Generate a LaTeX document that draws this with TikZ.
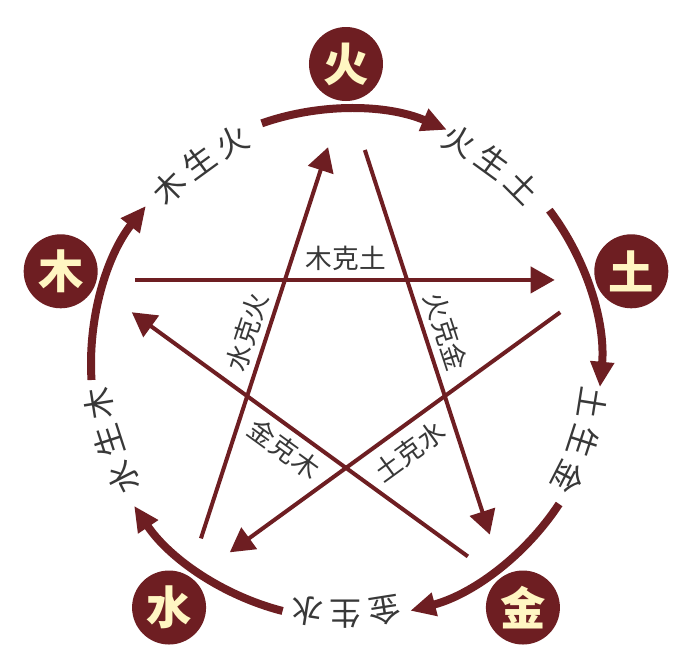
\documentclass[tikz,border=0pt]{standalone}
\usepackage{fontspec}
\newfontfamily\cjk{Noto Sans CJK SC}
\usetikzlibrary{arrows.meta}
\definecolor{maroon}{HTML}{6E1E22}
\definecolor{cream}{HTML}{FFF6C2}
\definecolor{txt}{HTML}{383838}
\begin{document}
\begin{tikzpicture}[x=0.75pt,y=0.75pt,
  elem/.style={circle, fill=maroon, minimum size=55.5pt, inner sep=0pt, text=cream,
    font=\cjk\bfseries\fontsize{34}{34}\selectfont},
  kelabel/.style={text=txt, font=\cjk\fontsize{20}{20}\selectfont, inner sep=0pt},
  shengchar/.style={text=txt, font=\cjk\fontsize{24}{24}\selectfont, inner sep=0pt},
  kearrow/.style={draw=maroon, line width=3pt, -{Triangle[length=18pt,width=19.5pt]}},
  shengarrow/.style={draw=maroon, line width=6pt, -{Triangle[length=19pt,width=17pt]}}
]
\useasboundingbox (-346,-294) rectangle (348,364);
\fill[white] (-346,-294) rectangle (348,364);

% sheng arcs
\coordinate (a1s) at (183.6:255);
\coordinate (a2s) at (109.3:255);
\coordinate (a3s) at (37.1:255);
\coordinate (a4s) at (-33.3:255);
\coordinate (a5s) at (-104.4:255);
\draw[shengarrow] (a1s) arc[start angle=183.6, end angle=141.7, radius=255];
\draw[shengarrow] (a2s) arc[start angle=109.3, end angle=66.7, radius=255];
\draw[shengarrow] (a3s) arc[start angle=37.1, end angle=-5.2, radius=255];
\draw[shengarrow] (a4s) arc[start angle=-33.3, end angle=-75.4, radius=255];
\draw[shengarrow] (a5s) arc[start angle=-104.4, end angle=-146.2, radius=255];

% elements
\node[elem] (huo) at (90:300) {火};
\node[elem] (mu) at (162:300) {木};
\node[elem] (tu) at (18:300) {土};
\node[elem] (jin) at (-54:301) {金};
\node[elem] (shui) at (-126:301) {水};

% star vertices
\coordinate (vH) at (90:272);
\coordinate (vM) at (162:272);
\coordinate (vT) at (18:272);
\coordinate (vJ) at (-54:272);
\coordinate (vS) at (-126:272);

\draw[kearrow, shorten <=36pt, shorten >=37.5pt] (vM) -- (vT);
\draw[kearrow, shorten <=45.75pt, shorten >=39pt] (vH) -- (vJ);
\draw[kearrow, shorten <=36pt, shorten >=43.5pt] (vS) -- (vH);
\draw[kearrow, shorten <=41.25pt, shorten >=40.5pt] (vT) -- (vS);
\draw[kearrow, shorten <=35.25pt, shorten >=41.25pt] (vJ) -- (vM);

% ke labels
\node[kelabel] (k1) at (90:106) {木克土};
\node[kelabel, rotate=72] (k2) at (162:104) {水克火};
\node[kelabel, rotate=-72] (k3) at (18:105) {火克金};
\node[kelabel, rotate=-36] (k4) at (-126:105) {金克木};
\node[kelabel, rotate=36] (k5) at (-54:108) {土克水};

% sheng labels, char by char along the circle
\foreach \T/\ca/\cb/\cc [count=\i] in {126/木/生/火, 54/火/生/土, -18/土/生/金, -90/金/生/水, 198/水/生/木}{
  \node[shengchar, rotate=\T+9-90] (s\i a) at ({\T+9}:250) {\ca};
  \node[shengchar, rotate=\T-90] (s\i b) at (\T:250) {\cb};
  \node[shengchar, rotate=\T-9-90] (s\i c) at ({\T-9}:250) {\cc};
}
\end{tikzpicture}
\end{document}
